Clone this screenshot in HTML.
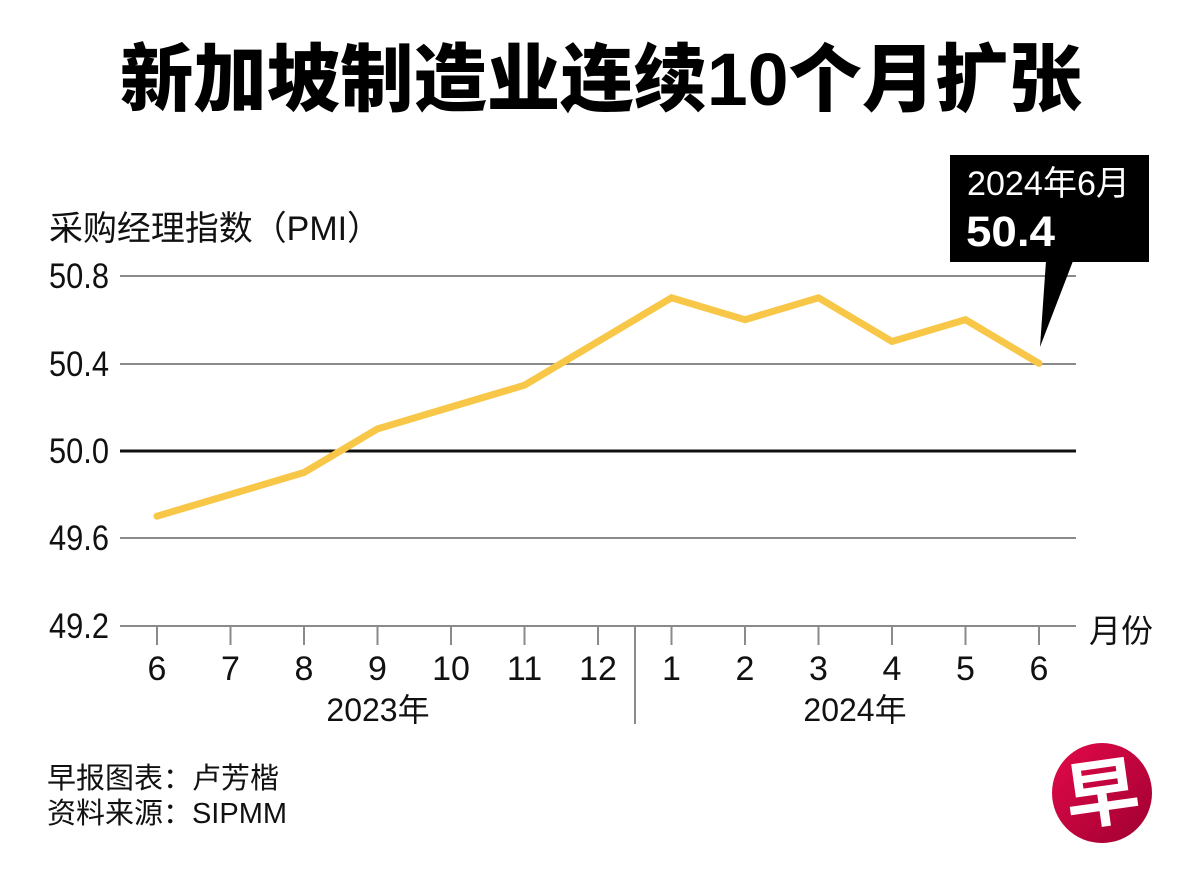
<!DOCTYPE html>
<html>
<head>
<meta charset="utf-8">
<style>
  html, body { margin:0; padding:0; background:#fff; }
  body { width:1200px; height:892px; overflow:hidden; }
  svg { display:block; }
  text { font-family: "Liberation Sans", "Noto Sans CJK SC", sans-serif; }
</style>
</head>
<body>
<svg width="1200" height="892" viewBox="0 0 1200 892" xmlns="http://www.w3.org/2000/svg">
  <defs>
    <linearGradient id="lg" x1="0" y1="0" x2="1" y2="1">
      <stop offset="0" stop-color="#e4094a"/>
      <stop offset="1" stop-color="#9e0030"/>
    </linearGradient>
  </defs>
  <rect width="1200" height="892" fill="#fff"/>

  <!-- Title -->
  <text x="601" y="105" text-anchor="middle" font-size="74" font-weight="900" fill="#000" textLength="962" lengthAdjust="spacingAndGlyphs">新加坡制造业连续10个月扩张</text>

  <!-- Y axis title -->
  <text x="49" y="240" font-size="34" fill="#111" textLength="332" lengthAdjust="spacingAndGlyphs">采购经理指数（PMI）</text>

  <!-- Grid lines -->
  <g stroke="#8a8a8a" stroke-width="2">
    <line x1="120" y1="276" x2="1076" y2="276"/>
    <line x1="120" y1="364" x2="1076" y2="364"/>
    <line x1="120" y1="538" x2="1076" y2="538"/>
    <line x1="120" y1="626" x2="1076" y2="626"/>
  </g>
  <line x1="120" y1="451" x2="1076" y2="451" stroke="#111" stroke-width="3"/>

  <!-- Y tick labels -->
  <g font-size="35" fill="#111">
    <text x="49" y="288" textLength="60" lengthAdjust="spacingAndGlyphs">50.8</text>
    <text x="49" y="376" textLength="60" lengthAdjust="spacingAndGlyphs">50.4</text>
    <text x="49" y="463" textLength="60" lengthAdjust="spacingAndGlyphs">50.0</text>
    <text x="49" y="550" textLength="60" lengthAdjust="spacingAndGlyphs">49.6</text>
    <text x="49" y="638" textLength="60" lengthAdjust="spacingAndGlyphs">49.2</text>
  </g>

  <!-- X ticks -->
  <g stroke="#8a8a8a" stroke-width="2">
    <line x1="157" y1="626" x2="157" y2="645"/>
    <line x1="230.5" y1="626" x2="230.5" y2="645"/>
    <line x1="304" y1="626" x2="304" y2="645"/>
    <line x1="377.5" y1="626" x2="377.5" y2="645"/>
    <line x1="451" y1="626" x2="451" y2="645"/>
    <line x1="524.5" y1="626" x2="524.5" y2="645"/>
    <line x1="598" y1="626" x2="598" y2="645"/>
    <line x1="671.5" y1="626" x2="671.5" y2="645"/>
    <line x1="745" y1="626" x2="745" y2="645"/>
    <line x1="818.5" y1="626" x2="818.5" y2="645"/>
    <line x1="892" y1="626" x2="892" y2="645"/>
    <line x1="965.5" y1="626" x2="965.5" y2="645"/>
    <line x1="1039" y1="626" x2="1039" y2="645"/>
    <line x1="635" y1="626" x2="635" y2="724"/>
  </g>

  <!-- X labels -->
  <g font-size="34" fill="#111" text-anchor="middle">
    <text x="157" y="680">6</text>
    <text x="230.5" y="680">7</text>
    <text x="304" y="680">8</text>
    <text x="377.5" y="680">9</text>
    <text x="451" y="680">10</text>
    <text x="524.5" y="680">11</text>
    <text x="598" y="680">12</text>
    <text x="671.5" y="680">1</text>
    <text x="745" y="680">2</text>
    <text x="818.5" y="680">3</text>
    <text x="892" y="680">4</text>
    <text x="965.5" y="680">5</text>
    <text x="1039" y="680">6</text>
  </g>
  <g font-size="32" fill="#111" text-anchor="middle">
    <text x="378" y="721">2023年</text>
    <text x="855" y="721">2024年</text>
  </g>
  <text x="1089" y="642" font-size="32" fill="#111">月份</text>

  <!-- Data line -->
  <polyline fill="none" stroke="#f8c748" stroke-width="7" stroke-linejoin="miter" stroke-linecap="round"
    points="157,516.2 230.5,494.4 304,472.5 377.5,428.9 451,407.0 524.5,385.2 598,341.5 671.5,297.8 745,319.7 818.5,297.8 892,341.5 965.5,319.7 1039,363.4"/>

  <!-- Callout -->
  <rect x="950" y="155" width="199" height="107" fill="#000"/>
  <polygon points="1046,261 1073,261 1040,347" fill="#000"/>
  <text x="967" y="195" font-size="34" fill="#fff" textLength="163" lengthAdjust="spacingAndGlyphs">2024年6月</text>
  <text x="966" y="246" font-size="43" font-weight="bold" fill="#fff" textLength="89" lengthAdjust="spacingAndGlyphs">50.4</text>

  <!-- Footer -->
  <g font-size="29" fill="#111">
    <text x="47" y="788">早报图表：卢芳楷</text>
    <text x="47" y="823" textLength="240" lengthAdjust="spacingAndGlyphs">资料来源：SIPMM</text>
  </g>

  <!-- Logo -->
  <circle cx="1102" cy="793" r="50" fill="url(#lg)"/>
  <text x="1102" y="820" text-anchor="middle" font-size="74" font-weight="bold" fill="#fff" transform="rotate(-8 1102 793)">早</text>
</svg>
</body>
</html>
